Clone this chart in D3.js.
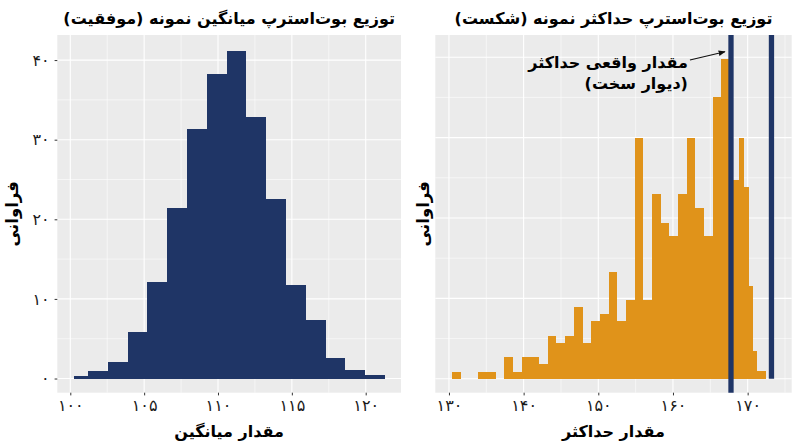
<!DOCTYPE html>
<html>
<head>
<meta charset="utf-8">
<script src="https://cdn.jsdelivr.net/npm/d3@7/dist/d3.min.js"></script>
<style>
  body { margin: 0; background: #fff; }
  text { font-family: "DejaVu Sans", sans-serif; }
</style>
</head>
<body>
<svg id="chart"></svg>
<script>
'use strict';

// left panel: bootstrap distribution of the sample mean
const leftEdges = [100.28, 101.2, 102.54, 103.88, 105.22, 106.56, 107.9, 109.24, 110.58,
  111.92, 113.26, 114.6, 115.94, 117.28, 118.62, 119.96, 121.3];
const leftFreq = [0.38, 0.96, 2.1, 5.9, 12.15, 21.4, 31.4, 38.3, 41.1, 32.8, 22.6, 11.7,
  7.4, 2.6, 1.13, 0.42];
const leftXTicks = [100, 105, 110, 115, 120];
const leftXMinor = [102.5, 107.5, 112.5, 117.5];

// right panel: bootstrap distribution of the sample maximum
const rightEdges = [130.44, 131.6, 132.77, 133.93, 135.09, 136.26, 137.42, 138.58, 139.74,
  140.91, 142.07, 143.23, 144.4, 145.56, 146.72, 147.89, 149.05, 150.21, 151.37, 152.54,
  153.7, 154.86, 156.03, 157.19, 158.35, 159.52, 160.68, 161.84, 163.0, 164.17, 165.33,
  166.49, 167.66, 168.82, 169.55, 170.18, 170.67, 171.21, 172.41];
const rightFreq = [0.9, 0, 0, 0.9, 0.9, 0, 2.7, 0.9, 2.7, 2.7, 1.8, 5.3, 4.45, 5.3, 8.9,
  4.45, 7.2, 8.05, 13.3, 7.2, 9.8, 30, 9.8, 23, 19.4, 17.7, 23, 30, 21.2, 17.7, 35, 39.8,
  24.7, 30, 23.8, 11.6, 3.5, 0.95];
const rightXTicks = [130, 140, 150, 160, 170];
const rightXMinor = [135, 145, 155, 165, 175];

const yTicks = [0, 10, 20, 30, 40];
const yMinor = [5, 15, 25, 35];

const trueMax = 167.77;   // مقدار واقعی حداکثر
const wallMax = 173.19;
const noteX = 162.0;
const noteY = [39.3, 36.7];
const arrowFrom = [162.27, 39.65];
const arrowTo = [166.96, 40.68];

const navy = '#1f3566';
const orange = '#e0931a';
const width = 800;
const height = 447;

const fa = (n) => String(n).replace(/\d/g, (d) => '۰۱۲۳۴۵۶۷۸۹'[d]);

const svg = d3.select('#chart')
    .attr('width', width)
    .attr('height', height);

svg.append('defs').append('marker')
    .attr('id', 'head')
    .attr('viewBox', '0 0 10 10')
    .attr('refX', 9).attr('refY', 5)
    .attr('markerWidth', 7).attr('markerHeight', 7)
    .attr('markerUnits', 'userSpaceOnUse')
    .attr('orient', 'auto')
    .append('path')
    .attr('d', 'M0,1 L10,5 L0,9 Z')
    .attr('fill', '#111');

function panel(opts) {
  const {left, right, top, bottom, xDomain, yDomain, edges, freq, color} = opts;
  const x = d3.scaleLinear().domain(xDomain).range([left, right]);
  const y = d3.scaleLinear().domain(yDomain).range([bottom, top]);
  const g = svg.append('g');

  g.append('rect')
      .attr('x', left).attr('y', top)
      .attr('width', right - left).attr('height', bottom - top)
      .attr('fill', '#ebebeb');

  g.selectAll('line.vminor').data(opts.xMinor.filter((d) => d < xDomain[1]))
      .enter().append('line')
      .attr('x1', (d) => x(d)).attr('x2', (d) => x(d))
      .attr('y1', top).attr('y2', bottom)
      .attr('stroke', '#fff').attr('stroke-width', 0.55);
  g.selectAll('line.hminor').data(yMinor)
      .enter().append('line')
      .attr('x1', left).attr('x2', right)
      .attr('y1', (d) => y(d)).attr('y2', (d) => y(d))
      .attr('stroke', '#fff').attr('stroke-width', 0.55);
  g.selectAll('line.vmajor').data(opts.xTicks)
      .enter().append('line')
      .attr('x1', (d) => x(d)).attr('x2', (d) => x(d))
      .attr('y1', top).attr('y2', bottom)
      .attr('stroke', '#fff').attr('stroke-width', 1.1);
  g.selectAll('line.hmajor').data(yTicks)
      .enter().append('line')
      .attr('x1', left).attr('x2', right)
      .attr('y1', (d) => y(d)).attr('y2', (d) => y(d))
      .attr('stroke', '#fff').attr('stroke-width', 1.1);

  const bins = freq.map((v, i) => ({x0: edges[i], x1: edges[i + 1], v}));
  g.selectAll('rect.bar').data(bins.filter((d) => d.v > 0))
      .enter().append('rect')
      .attr('x', (d) => x(d.x0))
      .attr('width', (d) => x(d.x1) - x(d.x0))
      .attr('y', (d) => y(d.v))
      .attr('height', (d) => y(0) - y(d.v))
      .attr('fill', color)
      .attr('shape-rendering', 'crispEdges');

  // x axis
  const xAxis = g.append('g')
      .attr('transform', `translate(0,${bottom})`)
      .call(d3.axisBottom(x).tickValues(opts.xTicks).tickSize(2.7)
          .tickPadding(4).tickFormat(fa));
  xAxis.select('.domain').remove();
  xAxis.selectAll('line').attr('stroke', '#333');
  xAxis.selectAll('text')
      .attr('font-size', 16).attr('fill', '#1a1a1a')
      .attr('font-family', '"DejaVu Sans", sans-serif');

  if (opts.yLabels) {
    const yAxis = g.append('g')
        .attr('transform', `translate(${left},0)`)
        .call(d3.axisLeft(y).tickValues(yTicks).tickSize(2.7)
            .tickPadding(5).tickFormat(fa));
    yAxis.select('.domain').remove();
    yAxis.selectAll('line').attr('stroke', '#333');
    yAxis.selectAll('text')
        .attr('font-size', 16).attr('fill', '#1a1a1a')
        .attr('font-family', '"DejaVu Sans", sans-serif');
  }

  const cx = (left + right) / 2;
  g.append('text')
      .attr('x', cx).attr('y', 18)
      .attr('direction', 'rtl')
      .attr('text-anchor', 'middle')
      .attr('dominant-baseline', 'central')
      .attr('font-size', 16).attr('font-weight', 'bold')
      .attr('fill', '#000')
      .text(opts.title);

  g.append('text')
      .attr('x', cx).attr('y', 431)
      .attr('direction', 'rtl')
      .attr('text-anchor', 'middle')
      .attr('dominant-baseline', 'central')
      .attr('font-size', 16).attr('font-weight', 'bold')
      .attr('fill', '#000')
      .text(opts.xTitle);

  g.append('text')
      .attr('transform', `translate(${opts.yTitleX},${(top + bottom) / 2}) rotate(-90)`)
      .attr('direction', 'rtl')
      .attr('text-anchor', 'middle')
      .attr('dominant-baseline', 'central')
      .attr('font-size', 16.5).attr('font-weight', 'bold')
      .attr('fill', '#000')
      .text('فراوانی');

  return {g, x, y};
}

panel({
  left: 57.3, right: 401, top: 35, bottom: 392.7,
  xDomain: [99.12, 122.39], yDomain: [-1.78, 43.15],
  edges: leftEdges, freq: leftFreq, color: navy,
  xTicks: leftXTicks, xMinor: leftXMinor, yLabels: true, yTitleX: 12,
  title: 'توزیع بوت\u200cاسترپ میانگین نمونه (موفقیت)',
  xTitle: 'مقدار میانگین',
});

const rp = panel({
  left: 435.3, right: 791.7, top: 35, bottom: 392.7,
  xDomain: [128.17, 175.9], yDomain: [-1.73, 42.76],
  edges: rightEdges, freq: rightFreq, color: orange,
  xTicks: rightXTicks, xMinor: rightXMinor, yLabels: false, yTitleX: 423,
  title: 'توزیع بوت\u200cاسترپ حداکثر نمونه (شکست)',
  xTitle: 'مقدار حداکثر',
});

rp.g.append('line')
    .attr('x1', rp.x(trueMax)).attr('x2', rp.x(trueMax))
    .attr('y1', 35).attr('y2', 392.7)
    .attr('stroke', navy).attr('stroke-width', 5.3);
rp.g.append('line')
    .attr('x1', rp.x(wallMax)).attr('x2', rp.x(wallMax))
    .attr('y1', 35).attr('y2', rp.y(0))
    .attr('stroke', navy).attr('stroke-width', 5.3);

rp.g.append('line')
    .attr('x1', rp.x(arrowFrom[0])).attr('y1', rp.y(arrowFrom[1]))
    .attr('x2', rp.x(arrowTo[0])).attr('y2', rp.y(arrowTo[1]))
    .attr('stroke', '#111').attr('stroke-width', 1.2)
    .attr('marker-end', 'url(#head)');

rp.g.selectAll('text.note')
    .data(['مقدار واقعی حداکثر', '(دیوار سخت)'])
    .enter().append('text')
    .attr('x', rp.x(noteX))
    .attr('y', (d, i) => rp.y(noteY[i]))
    .attr('direction', 'rtl')
    .attr('text-anchor', 'start')
    .attr('dominant-baseline', 'central')
    .attr('font-size', 16).attr('font-weight', 'bold')
    .attr('fill', '#000')
    .text((d) => d);
</script>
</body>
</html>
